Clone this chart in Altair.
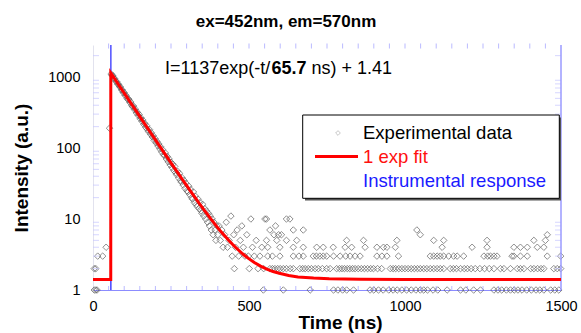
import altair as alt
import pandas as pd

FONT = "Liberation Sans"

# ---------------- data ----------------
# points before the excitation pulse
pre_t = [4, 9, 13, 4, 9, 15, 31, 42, 53]
pre_v = [1, 1, 1, 2, 2, 3, 3, 4, 190]

# decay region
decay_t = [58, 61, 64, 67, 70, 73, 76, 79, 82, 85,
           88, 91, 94, 97, 100, 103, 106, 109, 112, 115,
           118, 121, 124, 127, 130, 133, 136, 139, 142, 145,
           148, 151, 154, 157, 160, 163, 166, 169, 172, 175,
           178, 181, 184, 187, 190, 193, 196, 199, 202, 205,
           208, 211, 214, 217, 220, 223, 226, 229, 232, 235,
           238, 241, 244, 247, 250, 253, 256, 259, 262, 265,
           268, 271, 274, 277, 280, 283, 286, 289, 292, 295,
           298, 301, 304, 307, 310, 313, 316, 319, 322, 325,
           328, 331, 334, 337, 340, 343, 346, 349, 352, 355,
           358, 361, 364, 367, 370, 373, 376, 379, 382, 385,
           388, 391, 394, 397, 400]
decay_v = [1105, 1052, 1040, 958, 945, 872, 860, 795, 790, 731,
           722, 660, 655, 601, 605, 548, 552, 503, 480, 488,
           437, 445, 398, 381, 390, 347, 352, 312, 319, 287,
           296, 259, 266, 237, 246, 214, 222, 195, 206, 181,
           170, 182, 156, 164, 143, 149, 128, 136, 118, 124,
           107, 114, 97, 104, 88, 95, 81, 78, 85, 70,
           76, 64, 70, 58, 63, 53, 59, 48, 55, 45,
           42, 47, 38, 44, 35, 33, 38, 30, 35, 27,
           32, 25, 24, 29, 22, 26, 20, 19, 24, 17,
           21, 16, 15, 19, 14, 17, 13, 12, 16, 11,
           14, 10, 13, 9, 12, 8, 11, 7, 10, 6,
           9, 7, 5, 8, 6]

# transition region
mid_t = [404, 408, 413, 417, 422, 427, 431, 436, 442, 446,
         451, 453, 457, 462, 467, 472, 477, 482, 487, 493,
         498, 501, 506, 511, 517, 523, 529, 535, 541, 547, 551]
mid_v = [8, 5, 7, 4, 6, 9, 4, 5, 11, 3,
         6, 2, 4, 7, 3, 5, 8, 4, 3, 6,
         3, 2, 10, 4, 3, 5, 2, 3, 4, 2, 10]

# background (tail) points, grouped by count level
lvl1_t = [546, 610, 696, 771, 785, 800, 813, 835, 888, 900, 915, 930, 948, 962,
          975, 990, 1005, 1020, 1035, 1049, 1060, 1072, 1090, 1105, 1135, 1178,
          1195, 1220, 1242, 1285, 1298, 1310, 1325, 1338, 1350, 1362, 1375, 1390,
          1405, 1420, 1432, 1445, 1467, 1480, 1493]
lvl2_t = [567, 575, 583, 592, 600, 610, 620, 632, 642, 663, 672, 680, 690, 700,
          712, 722, 735, 749, 760, 781, 790, 798, 806, 815, 823, 832, 840, 850,
          860, 870, 880, 890, 899, 912, 925, 953, 962, 970, 980, 990, 1000, 1010,
          1020, 1030, 1040, 1049, 1060, 1070, 1081, 1092, 1103, 1113, 1124, 1145,
          1155, 1165, 1178, 1190, 1200, 1212, 1225, 1240, 1255, 1270, 1285, 1306,
          1317, 1338, 1360, 1370, 1381, 1403, 1413, 1425, 1436, 1445, 1477, 1488, 1499]
lvl3_t = [560, 575, 599, 642, 660, 674, 706, 716, 727, 738, 749, 771, 792, 810,
          824, 840, 856, 910, 926, 942, 979, 1081, 1092, 1103, 1113, 1124, 1140,
          1156, 1167, 1188, 1253, 1265, 1274, 1285, 1295, 1343, 1349, 1370, 1392,
          1456, 1499]
lvl4_t = [560, 599, 642, 674, 717, 738, 770, 808, 829, 872, 910, 931, 942, 969,
          1119, 1215, 1263, 1349, 1370, 1392, 1424, 1445]
lvl5_t = [556, 589, 620, 653, 813, 867, 974, 1092, 1124, 1263, 1413, 1450]
lvl6_t = [580, 595, 604, 1049, 1456]
lvl7_t = [567, 642, 674, 1038]
lvl8_t = [585]
lvl10_t = [556, 620, 631]

# one-exponential fit curve
fit_t = [0, 56.9, 57, 67, 77, 87, 97, 107, 117, 127, 137, 147, 157, 167, 177, 187,
         197, 207, 217, 227, 237, 247, 257, 267, 277, 287, 297, 307, 317, 327, 337,
         347, 357, 367, 377, 387, 397, 407, 417, 427, 437, 447, 457, 467, 477, 487,
         497, 517, 537, 557, 577, 597, 627, 657, 707, 757, 857, 1000, 1500]
fit_v = [1.41, 1.41, 1138.4, 977.9, 840.0, 721.6, 619.9, 532.6, 457.6, 393.2,
         337.9, 290.4, 249.6, 214.5, 184.4, 158.6, 136.4, 117.3, 101.0, 86.9,
         74.8, 64.5, 55.6, 47.9, 41.4, 35.7, 30.9, 26.7, 23.1, 20.1,
         17.4, 15.2, 13.2, 11.6, 10.1, 8.9, 7.8, 6.9, 6.15, 5.48,
         4.91, 4.41, 3.99, 3.63, 3.31, 3.04, 2.81, 2.44, 2.17, 1.97,
         1.82, 1.72, 1.60, 1.53, 1.47, 1.44, 1.415, 1.41, 1.41]

# instrumental response (narrow spike)
irf_t = [40, 57.1, 57.3, 57.5, 75]
irf_v = [0.5, 0.5, 100000, 0.5, 0.5]

# axis ticks
x_labels = [0, 500, 1000, 1500]
y_labels = [1, 10, 100, 1000]
x_minor = [50, 100, 150, 200, 250, 300, 350, 400, 450, 500, 550, 600, 650, 700,
           750, 800, 850, 900, 950, 1000, 1050, 1100, 1150, 1200, 1250, 1300,
           1350, 1400, 1450]
y_minor = [2, 3, 4, 5, 6, 7, 8, 9, 20, 30, 40, 50, 60, 70, 80, 90,
           200, 300, 400, 500, 600, 700, 800, 900, 2000]

assert len(decay_t) == len(decay_v)
assert len(mid_t) == len(mid_v)
assert len(fit_t) == len(fit_v)

# ---------------- build tables ----------------
rows = []
rows += list(zip(pre_t, pre_v))
rows += list(zip(decay_t, decay_v))
rows += list(zip(mid_t, mid_v))
for lv, ts in [(1, lvl1_t), (2, lvl2_t), (3, lvl3_t), (4, lvl4_t), (5, lvl5_t),
               (6, lvl6_t), (7, lvl7_t), (8, lvl8_t), (10, lvl10_t)]:
    rows += [(t, lv) for t in ts]
pts_df = pd.DataFrame(rows, columns=["t", "v"])
fit_df = pd.DataFrame({"t": fit_t, "v": fit_v})
irf_df = pd.DataFrame({"t": irf_t, "v": irf_v})
xmin_df = pd.DataFrame({"t": x_minor})
ymin_df = pd.DataFrame({"v": y_minor})
one = pd.DataFrame({"a": [0]})

W, H = 468, 245
xscale = alt.Scale(domain=[0, 1500], nice=False, zero=False)
yscale = alt.Scale(type="log", domain=[1, 2823], nice=False)

xaxis = alt.Axis(values=x_labels, format="d", title="Time (ns)", titleFont=FONT,
                 titleFontSize=19, titleFontWeight="bold", titleColor="black",
                 titleX=247, titleY=38, titleBaseline="alphabetic", labelFont=FONT,
                 labelFontSize=14.5, labelColor="black", labelPadding=9, ticks=False,
                 tickSize=0, domainColor="#8c8cff", domainWidth=1.2, grid=False,
                 labelFlush=False, labelOverlap=False)
yaxis = alt.Axis(values=y_labels, format="d", title="Intensity (a.u.)", titleFont=FONT,
                 titleFontSize=19, titleFontWeight="bold", titleColor="black",
                 titleX=-66, titleY=H / 2, titleBaseline="alphabetic", labelFont=FONT,
                 labelFontSize=14.5, labelColor="black", labelPadding=13, ticks=False,
                 tickSize=0, domainColor="#e2e2ee", domainWidth=1, grid=False,
                 labelOverlap=False)


def X():
    return alt.X("t:Q", scale=xscale, axis=xaxis)


def Y():
    return alt.Y("v:Q", scale=yscale, axis=yaxis)


pts = alt.Chart(pts_df).mark_point(shape="diamond", filled=False, size=42,
                                   color="#5a5a5a", strokeWidth=0.8, opacity=0.85).encode(
    x=X(), y=Y())

fit = alt.Chart(fit_df).mark_line(color="#ff0000", strokeWidth=3, clip=True).encode(
    x=X(), y=Y())

irf = alt.Chart(irf_df).mark_line(color="#2a2aff", strokeWidth=1.2, clip=True).encode(
    x=X(), y=Y())

tick_col = "#9c9cff"
bot_ticks = alt.Chart(xmin_df).mark_tick(color=tick_col, thickness=1, size=4).encode(
    x=X(), y=alt.value(H - 2))
top_ticks = alt.Chart(xmin_df).mark_tick(color=tick_col, thickness=1, size=5).encode(
    x=X(), y=alt.value(1))
left_ticks = alt.Chart(ymin_df).mark_tick(color="#c4c4ff", thickness=1, size=6).encode(
    y=Y(), x=alt.value(3))
right_ticks = alt.Chart(ymin_df).mark_tick(color="#c4c4ff", thickness=1, size=6).encode(
    y=Y(), x=alt.value(W - 3))

right_frame = alt.Chart(one).mark_rule(color="#9a9aff", strokeWidth=1.5).encode(
    x=alt.value(W), y=alt.value(0), y2=alt.value(H))


def txt(s, x, y, size, color="black", weight="normal", align="left"):
    return alt.Chart(one).mark_text(text=s, font=FONT, fontSize=size, color=color,
                                    fontWeight=weight, align=align, baseline="middle").encode(
        x=alt.value(x), y=alt.value(y))


title = txt("ex=452nm, em=570nm", 193, -23, 17, weight="bold", align="center")
eq1 = txt("I=1137exp(-t/", 72, 24, 18)
eq2 = txt("65.7", 178.5, 24, 18, weight="bold")
eq3 = txt("ns) + 1.41", 218.5, 24, 18)

# legend box
shadow = alt.Chart(one).mark_rect(fill="#555555").encode(
    x=alt.value(212), x2=alt.value(468), y=alt.value(72.5), y2=alt.value(155.5))
box = alt.Chart(one).mark_rect(fill="white", stroke="black", strokeWidth=1).encode(
    x=alt.value(209.7), x2=alt.value(466.3), y=alt.value(70), y2=alt.value(153.3))
leg_sym = alt.Chart(one).mark_point(shape="diamond", filled=False, size=22,
                                    color="#9a9a9a", strokeWidth=0.8).encode(
    x=alt.value(245), y=alt.value(88))
leg_line = alt.Chart(one).mark_rule(color="#ff0000", strokeWidth=3).encode(
    x=alt.value(222), x2=alt.value(265), y=alt.value(111.5))
leg1 = txt("Experimental data", 270, 88, 18.5)
leg2 = txt("1 exp fit", 270, 111.5, 18.5, color="#ff1010")
leg3 = txt("Instrumental response", 270, 135.5, 18.5, color="#1a1aff")

chart = alt.layer(
    pts, bot_ticks, top_ticks, left_ticks, right_ticks, right_frame, irf, fit,
    title, eq1, eq2, eq3, shadow, box, leg_sym, leg_line, leg1, leg2, leg3,
).properties(
    width=W, height=H,
    autosize=alt.AutoSizeParams(type="none"),
    padding={"left": 93, "top": 45, "right": 20, "bottom": 43},
    background="white",
).configure_view(stroke=None)

chart.save("out.html", embed_options={"renderer": "svg", "actions": False})
